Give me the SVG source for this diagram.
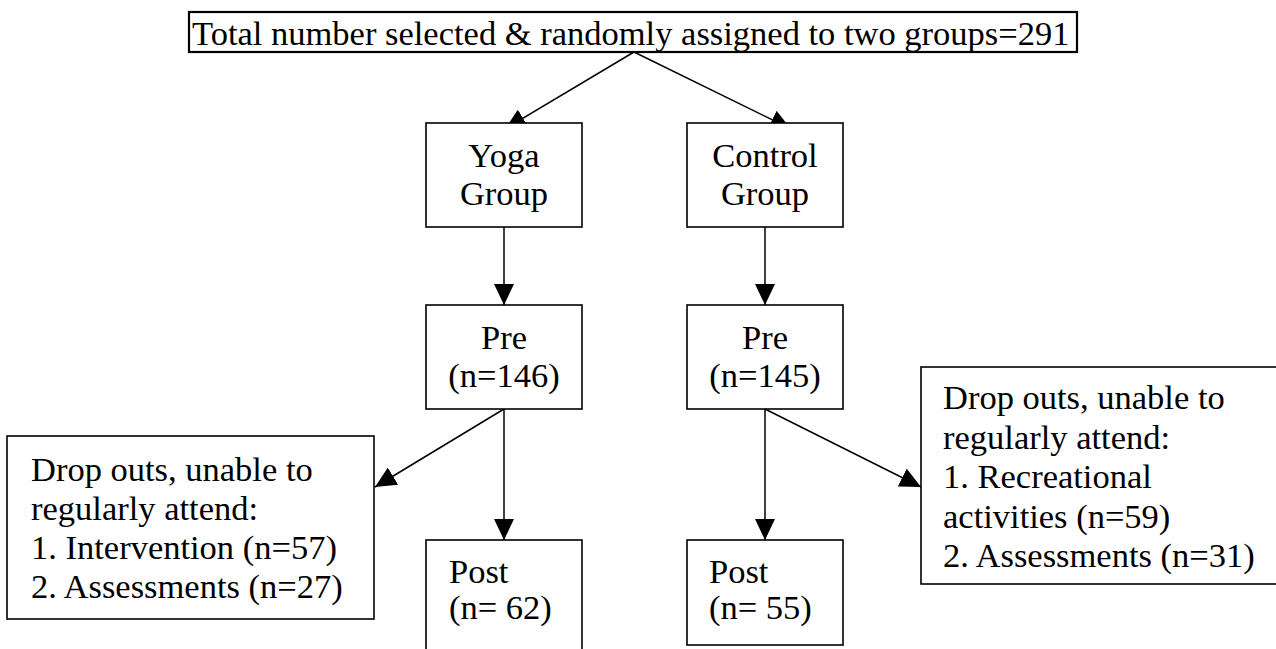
<svg xmlns="http://www.w3.org/2000/svg" width="1276" height="649" viewBox="0 0 1276 649">
<style>
  .box { fill: #ffffff; stroke: #000000; stroke-width: 1.6; }
  .t { font-family: "Liberation Serif", "Times New Roman", serif; font-size: 34.5px; fill: #000000; }
  .c { text-anchor: middle; }
  .edge { stroke: #000000; stroke-width: 1.5; fill: none; marker-end: url(#arrow); }
</style>
<defs>
  <marker id="arrow" markerUnits="userSpaceOnUse" markerWidth="21" markerHeight="20" refX="21" refY="10" orient="auto">
    <path d="M0,0 L21,10 L0,20 Z" fill="#000000"/>
  </marker>
</defs>
<rect width="1276" height="649" fill="#ffffff"/>

<g id="connectors">
  <line class="edge" x1="634" y1="52" x2="505" y2="129"/>
  <line class="edge" x1="634" y1="52" x2="791" y2="129"/>
  <line class="edge" x1="504" y1="227" x2="504" y2="305"/>
  <line class="edge" x1="765" y1="227" x2="765" y2="305"/>
  <line class="edge" x1="504" y1="409" x2="504" y2="540"/>
  <line class="edge" x1="765" y1="409" x2="765" y2="540"/>
  <line class="edge" x1="504" y1="409" x2="375" y2="487"/>
  <line class="edge" x1="765" y1="409" x2="921" y2="487"/>
</g>

<g id="total">
  <rect x="189" y="12" width="888" height="40" fill="#ffffff" stroke="#000000" stroke-width="2.2"/>
  <text class="t" x="192" y="45">Total number selected &amp; randomly assigned to two groups=291</text>
</g>

<g id="yoga">
  <rect class="box" x="426" y="123" width="156" height="104"/>
  <text class="t c" x="504" y="167">Yoga</text>
  <text class="t c" x="504" y="205">Group</text>
</g>

<g id="control">
  <rect class="box" x="687" y="123" width="156" height="104"/>
  <text class="t c" x="765" y="167">Control</text>
  <text class="t c" x="765" y="205">Group</text>
</g>

<g id="yoga-pre">
  <rect class="box" x="426" y="305" width="156" height="104"/>
  <text class="t c" x="504" y="349">Pre</text>
  <text class="t c" x="504" y="387">(n=146)</text>
</g>

<g id="control-pre">
  <rect class="box" x="687" y="305" width="156" height="104"/>
  <text class="t c" x="765" y="349">Pre</text>
  <text class="t c" x="765" y="387">(n=145)</text>
</g>

<g id="yoga-dropouts">
  <rect class="box" x="7" y="436" width="367" height="183"/>
  <text class="t" x="31" y="481">Drop outs, unable to</text>
  <text class="t" x="31" y="520">regularly attend:</text>
  <text class="t" x="31" y="559">1. Intervention (n=57)</text>
  <text class="t" x="31" y="598">2. Assessments (n=27)</text>
</g>

<g id="control-dropouts">
  <rect class="box" x="921" y="367" width="370" height="217"/>
  <text class="t" x="943" y="409">Drop outs, unable to</text>
  <text class="t" x="943" y="449">regularly attend:</text>
  <text class="t" x="943" y="488">1. Recreational</text>
  <text class="t" x="943" y="528">activities (n=59)</text>
  <text class="t" x="943" y="567">2. Assessments (n=31)</text>
</g>

<g id="yoga-post">
  <rect class="box" x="426" y="540" width="156" height="130"/>
  <text class="t" x="449" y="583">Post</text>
  <text class="t" x="449" y="619">(n= 62)</text>
</g>

<g id="control-post">
  <rect class="box" x="687" y="540" width="156" height="105"/>
  <text class="t" x="709" y="583">Post</text>
  <text class="t" x="709" y="619">(n= 55)</text>
</g>
</svg>
